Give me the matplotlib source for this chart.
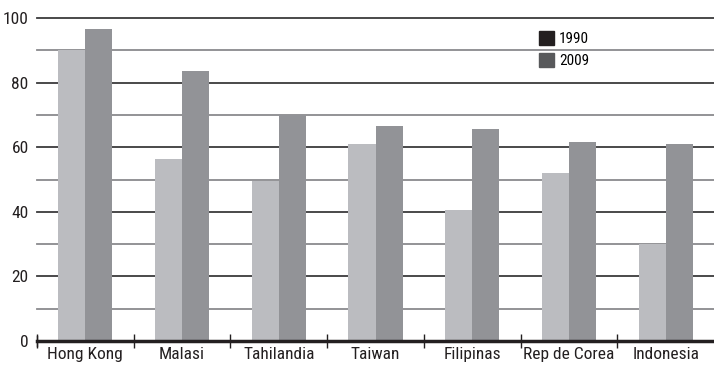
import numpy as np
import matplotlib
matplotlib.use("Agg")
import matplotlib.pyplot as plt
from matplotlib.patches import Patch
from matplotlib import font_manager

# buscar una fuente estrecha si hay
fuentes = font_manager.fontManager.ttflist
estrecha = None
for f in fuentes:
    if f.name in ("Liberation Sans Narrow", "Roboto Condensed", "Open Sans Condensed"):
        estrecha = (f.name, "normal")
        break
if estrecha is None:
    for f in fuentes:
        if f.name == "DejaVu Sans" and f.stretch in ("condensed", 500, "semi-condensed"):
            estrecha = ("DejaVu Sans", "condensed")
            break

if estrecha is not None:
    familia, stretch = estrecha
    tam_x, tam_y, tam_ley = 12.5, 12.5, 11
else:
    familia, stretch = "Liberation Sans", "normal"
    tam_x, tam_y, tam_ley = 10.5, 10.5, 9.5

plt.rcParams["font.family"] = [familia, "DejaVu Sans"]
plt.rcParams["font.stretch"] = stretch

paises = ["Hong Kong", "Malasi", "Tahilandia", "Taiwan", "Filipinas", "Rep de Corea", "Indonesia"]
valores_1990 = [90, 56.5, 49.5, 61, 40.5, 52, 30]
valores_2009 = [96.5, 83.5, 70, 66.5, 65.5, 61.5, 61]
anios = ["1990", "2009"]

fig = plt.figure(figsize=(7.14, 3.67), dpi=100)
ax = fig.add_axes([37 / 714, 1 - 341 / 367, 1 - 37 / 714, (341 - 18) / 367])

x = np.arange(len(paises))
ancho = 0.28

# lineas de fondo
for v in range(10, 101, 10):
    color = "#3a3a3c" if v % 20 == 0 else "#8a8a8d"
    ax.axhline(v, color=color, lw=1.3, zorder=0, clip_on=False)

ax.bar(x - ancho / 2, valores_1990, ancho, color="#bbbcc0", zorder=2)
ax.bar(x + ancho / 2, valores_2009, ancho, color="#929397", zorder=2)

ax.axhline(0, color="#231f20", lw=2.5, zorder=3, clip_on=False)

ax.set_xlim(-0.5, len(paises) - 0.5)
ax.set_ylim(0, 100)

ax.set_xticks(x)
ax.set_xticklabels(paises, fontsize=tam_x, color="#231f20")
ax.set_xticks(np.arange(len(paises)) - 0.5, minor=True)
ax.tick_params(axis="x", which="major", length=0, pad=4)
ax.tick_params(axis="x", which="minor", length=10, width=1, color="#231f20", direction="inout")

ax.set_yticks(range(0, 101, 20))
ax.tick_params(axis="y", length=0, labelsize=tam_y, labelcolor="#231f20", pad=6)

for s in ax.spines.values():
    s.set_visible(False)

# tick pequeño del eje en 0
ax.plot([-0.5, -0.5], [-1.5, 1.5], color="#231f20", lw=1, clip_on=False, zorder=4)

handles = [Patch(color="#231f20"), Patch(color="#58595b")]
ax.legend(handles, anios, loc="upper left", bbox_to_anchor=(539 / 714, 1 - 31 / 367),
          bbox_transform=fig.transFigure, frameon=False, fontsize=tam_ley,
          handlelength=1.0, handleheight=1.0, handletextpad=0.3, labelspacing=0.45,
          borderpad=0, borderaxespad=0)

fig.savefig("out.png", dpi=100)
